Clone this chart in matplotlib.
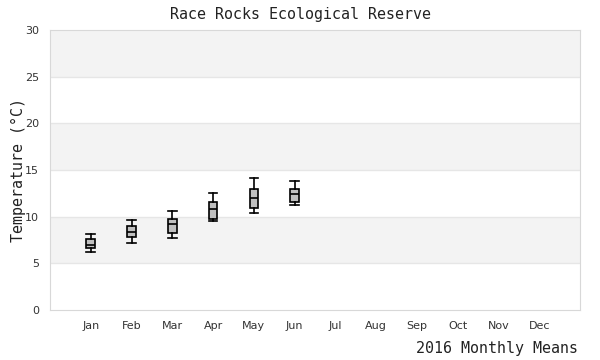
import matplotlib.pyplot as plt
import numpy as np

months = ['Jan', 'Feb', 'Mar', 'Apr', 'May', 'Jun', 'Jul', 'Aug', 'Sep', 'Oct', 'Nov', 'Dec']
# box stats for months with data (Jan-Jun)
whislo = [6.2, 7.2, 7.7, 9.5, 10.4, 11.3]
q1 = [6.6, 7.8, 8.2, 9.8, 10.9, 11.6]
med = [7.0, 8.4, 9.2, 10.8, 12.0, 12.4]
q3 = [7.6, 9.0, 9.8, 11.6, 13.0, 13.0]
whishi = [8.1, 9.6, 10.6, 12.5, 14.1, 13.8]

fig = plt.figure(figsize=(6, 3.6), dpi=100)
ax = fig.add_axes([50/600, 50/360, 530/600, 280/360])

# alternating horizontal bands
for lo in range(5, 30, 10):
    ax.axhspan(lo, lo + 5, color='#f3f3f3', zorder=0, lw=0)
for y in range(5, 30, 5):
    ax.axhline(y, color='#e6e6e6', lw=1, zorder=1)

stats = []
for i in range(len(med)):
    stats.append(dict(whislo=whislo[i], q1=q1[i], med=med[i], q3=q3[i], whishi=whishi[i], fliers=[]))

ax.bxp(stats, positions=np.arange(1, len(med) + 1), widths=0.21, patch_artist=True,
       boxprops=dict(facecolor='#c0c0c0', edgecolor='black', lw=1.2),
       medianprops=dict(color='black', lw=1.2),
       whiskerprops=dict(color='black', lw=1.2),
       capprops=dict(color='black', lw=1.2),
       capwidths=0.21, zorder=3)

ax.set_xlim(0, 13)
ax.set_ylim(0, 30)
ax.set_xticks(np.arange(1, 13))
ax.set_xticklabels(months)
ax.set_yticks(np.arange(0, 31, 5))
ax.tick_params(length=0, labelsize=8, colors='#333333', pad=8)
for s in ax.spines.values():
    s.set_color('#d8d8d8')

mono = dict(fontfamily='DejaVu Sans Mono', fontsize=10.8, color='#222222')
fig.text(0.5, 1 - 15/360, 'Race Rocks Ecological Reserve', ha='center', va='center', **mono)
fig.text(18/600, 1 - 170/360, 'Temperature (°C)', rotation=90, ha='center', va='center', **mono)
fig.text(578/600, 1 - 348/360, '2016 Monthly Means', ha='right', va='center', **mono)

fig.savefig('out.png')
